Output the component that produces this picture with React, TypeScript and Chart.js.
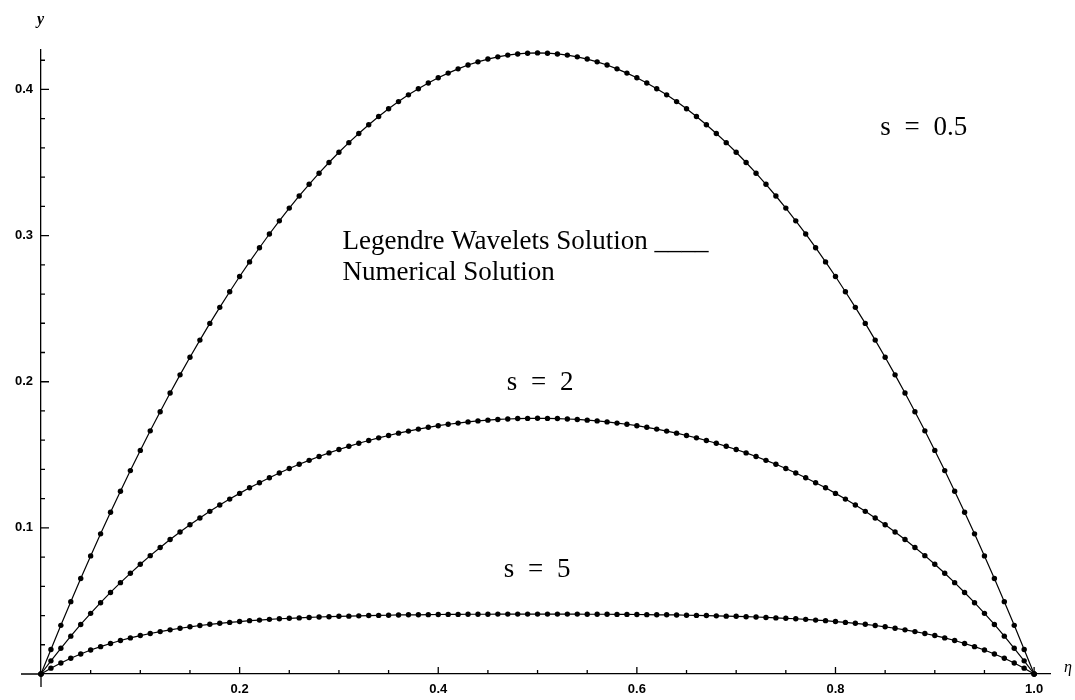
import React, { useEffect, useRef } from 'react';
import { Chart, registerables } from 'chart.js';

Chart.register(...registerables);

// eta sample positions
const etaValues = [
  0, 0.01, 0.02, 0.03, 0.04, 0.05, 0.06, 0.07, 0.08, 0.09,
  0.1, 0.11, 0.12, 0.13, 0.14, 0.15, 0.16, 0.17, 0.18, 0.19,
  0.2, 0.21, 0.22, 0.23, 0.24, 0.25, 0.26, 0.27, 0.28, 0.29,
  0.3, 0.31, 0.32, 0.33, 0.34, 0.35, 0.36, 0.37, 0.38, 0.39,
  0.4, 0.41, 0.42, 0.43, 0.44, 0.45, 0.46, 0.47, 0.48, 0.49,
  0.5, 0.51, 0.52, 0.53, 0.54, 0.55, 0.56, 0.57, 0.58, 0.59,
  0.6, 0.61, 0.62, 0.63, 0.64, 0.65, 0.66, 0.67, 0.68, 0.69,
  0.7, 0.71, 0.72, 0.73, 0.74, 0.75, 0.76, 0.77, 0.78, 0.79,
  0.8, 0.81, 0.82, 0.83, 0.84, 0.85, 0.86, 0.87, 0.88, 0.89,
  0.9, 0.91, 0.92, 0.93, 0.94, 0.95, 0.96, 0.97, 0.98, 0.99,
  1.0,
];

// s = 0.5
const yS05 = [
  0, 0.0168, 0.0333, 0.0495, 0.0653, 0.0808, 0.0959, 0.1107, 0.1251, 0.1392,
  0.1530, 0.1664, 0.1795, 0.1923, 0.2047, 0.2168, 0.2285, 0.2399, 0.2509, 0.2616,
  0.2720, 0.2820, 0.2917, 0.3011, 0.3101, 0.3188, 0.3271, 0.3351, 0.3427, 0.3500,
  0.3570, 0.3636, 0.3699, 0.3759, 0.3815, 0.3868, 0.3917, 0.3963, 0.4005, 0.4044,
  0.4080, 0.4112, 0.4141, 0.4167, 0.4189, 0.4208, 0.4223, 0.4235, 0.4243, 0.4248,
  0.4250,
  0.4248, 0.4243, 0.4235, 0.4223, 0.4208, 0.4189, 0.4167, 0.4141, 0.4112, 0.4080,
  0.4044, 0.4005, 0.3963, 0.3917, 0.3868, 0.3815, 0.3759, 0.3699, 0.3636, 0.3570,
  0.3500, 0.3427, 0.3351, 0.3271, 0.3188, 0.3101, 0.3011, 0.2917, 0.2820, 0.2720,
  0.2616, 0.2509, 0.2399, 0.2285, 0.2168, 0.2047, 0.1923, 0.1795, 0.1664, 0.1530,
  0.1392, 0.1251, 0.1107, 0.0959, 0.0808, 0.0653, 0.0495, 0.0333, 0.0168, 0,
];

// s = 2
const yS2 = [
  0, 0.0090, 0.0176, 0.0259, 0.0339, 0.0415, 0.0488, 0.0558, 0.0625, 0.0689,
  0.0751, 0.0810, 0.0866, 0.0920, 0.0972, 0.1021, 0.1068, 0.1113, 0.1156, 0.1197,
  0.1236, 0.1274, 0.1309, 0.1343, 0.1375, 0.1406, 0.1435, 0.1462, 0.1488, 0.1513,
  0.1536, 0.1558, 0.1579, 0.1598, 0.1616, 0.1632, 0.1648, 0.1662, 0.1676, 0.1688,
  0.1699, 0.1709, 0.1717, 0.1725, 0.1732, 0.1737, 0.1742, 0.1745, 0.1748, 0.1749,
  0.1750,
  0.1749, 0.1748, 0.1745, 0.1742, 0.1737, 0.1732, 0.1725, 0.1717, 0.1709, 0.1699,
  0.1688, 0.1676, 0.1662, 0.1648, 0.1632, 0.1616, 0.1598, 0.1579, 0.1558, 0.1536,
  0.1513, 0.1488, 0.1462, 0.1435, 0.1406, 0.1375, 0.1343, 0.1309, 0.1274, 0.1236,
  0.1197, 0.1156, 0.1113, 0.1068, 0.1021, 0.0972, 0.0920, 0.0866, 0.0810, 0.0751,
  0.0689, 0.0625, 0.0558, 0.0488, 0.0415, 0.0339, 0.0259, 0.0176, 0.0090, 0,
];

// s = 5
const yS5 = [
  0, 0.0040, 0.0075, 0.0108, 0.0137, 0.0164, 0.0187, 0.0209, 0.0229, 0.0247,
  0.0263, 0.0277, 0.0290, 0.0302, 0.0313, 0.0323, 0.0332, 0.0340, 0.0347, 0.0353,
  0.0359, 0.0365, 0.0369, 0.0374, 0.0378, 0.0381, 0.0384, 0.0387, 0.0390, 0.0392,
  0.0395, 0.0396, 0.0398, 0.0400, 0.0401, 0.0402, 0.0404, 0.0405, 0.0405, 0.0406,
  0.0407, 0.0408, 0.0408, 0.0409, 0.0409, 0.0409, 0.0410, 0.0410, 0.0410, 0.0410,
  0.0410,
  0.0410, 0.0410, 0.0410, 0.0410, 0.0409, 0.0409, 0.0409, 0.0408, 0.0408, 0.0407,
  0.0406, 0.0405, 0.0405, 0.0404, 0.0402, 0.0401, 0.0400, 0.0398, 0.0396, 0.0395,
  0.0392, 0.0390, 0.0387, 0.0384, 0.0381, 0.0378, 0.0374, 0.0369, 0.0365, 0.0359,
  0.0353, 0.0347, 0.0340, 0.0332, 0.0323, 0.0313, 0.0302, 0.0290, 0.0277, 0.0263,
  0.0247, 0.0229, 0.0209, 0.0187, 0.0164, 0.0137, 0.0108, 0.0075, 0.0040, 0,
];

const xTickValues = [0.2, 0.4, 0.6, 0.8, 1.0];
const xTickLabels = ['0.2', '0.4', '0.6', '0.8', '1.0'];
const xMinorTicks = [0.05, 0.1, 0.15, 0.25, 0.3, 0.35, 0.45, 0.5, 0.55, 0.65, 0.7, 0.75, 0.85, 0.9, 0.95];
const yTickValues = [0.1, 0.2, 0.3, 0.4];
const yTickLabels = ['0.1', '0.2', '0.3', '0.4'];
const yMinorTicks = [0.02, 0.04, 0.06, 0.08, 0.12, 0.14, 0.16, 0.18, 0.22, 0.24, 0.26, 0.28, 0.32, 0.34, 0.36, 0.38, 0.42];

const curveLabels = ['s = 0.5', 's = 2', 's = 5'];
const legendLines = ['Legendre Wavelets Solution ____', 'Numerical Solution'];
const xAxisTitle = 'η';
const yAxisTitle = 'y';

const decorPlugin = {
  id: 'decor',
  afterDraw(chart: any) {
    const { ctx } = chart;
    const xs = chart.scales.x;
    const ys = chart.scales.y;
    const x0 = xs.getPixelForValue(0);
    const y0 = ys.getPixelForValue(0);
    ctx.save();
    ctx.strokeStyle = '#000';
    ctx.lineWidth = 1.3;
    ctx.beginPath();
    // axis extensions beyond origin
    ctx.moveTo(21, y0);
    ctx.lineTo(x0, y0);
    ctx.moveTo(x0, y0);
    ctx.lineTo(x0, y0 + 13);
    // x ticks (pointing up)
    xTickValues.forEach((v) => {
      const px = xs.getPixelForValue(v);
      ctx.moveTo(px, y0);
      ctx.lineTo(px, y0 - 7);
    });
    xMinorTicks.forEach((v) => {
      const px = xs.getPixelForValue(v);
      ctx.moveTo(px, y0);
      ctx.lineTo(px, y0 - 4);
    });
    // y ticks (pointing right)
    yTickValues.forEach((v) => {
      const py = ys.getPixelForValue(v);
      ctx.moveTo(x0, py);
      ctx.lineTo(x0 + 8, py);
    });
    yMinorTicks.forEach((v) => {
      const py = ys.getPixelForValue(v);
      ctx.moveTo(x0, py);
      ctx.lineTo(x0 + 4, py);
    });
    ctx.stroke();

    ctx.fillStyle = '#000';
    // axis titles
    ctx.font = 'italic bold 16px "Liberation Serif"';
    ctx.textAlign = 'left';
    ctx.textBaseline = 'middle';
    ctx.fillText(yAxisTitle, 37, 20);
    ctx.font = 'italic 16px "Liberation Serif"';
    ctx.fillText(xAxisTitle, 1064, y0 - 6);

    // curve labels
    ctx.font = '27px "Liberation Serif"';
    (ctx as any).wordSpacing = '7px';
    const curvePos = [
      [0.845, 0.374],
      [0.469, 0.199],
      [0.466, 0.071],
    ];
    curveLabels.forEach((t, i) => {
      ctx.fillText(t, xs.getPixelForValue(curvePos[i][0]), ys.getPixelForValue(curvePos[i][1]));
    });
    (ctx as any).wordSpacing = '0px';

    // legend text
    ctx.font = '27px "Liberation Serif"';
    ctx.textBaseline = 'alphabetic';
    const lx = xs.getPixelForValue(0.3037);
    ctx.fillText(legendLines[0], lx, 249);
    ctx.fillText(legendLines[1], lx, 280);
    ctx.restore();
  },
};

export default function App() {
  const canvasRef = useRef<HTMLCanvasElement | null>(null);

  useEffect(() => {
    if (!canvasRef.current) return;
    const mk = (ys: number[]) => etaValues.map((x, i) => ({ x, y: ys[i] }));
    const ds = (label: string, ys: number[]) => ({
      label,
      data: mk(ys),
      borderColor: '#000',
      backgroundColor: '#000',
      borderWidth: 1.2,
      pointRadius: 2.7,
      pointBorderWidth: 0,
      pointBackgroundColor: '#000',
      tension: 0,
      clip: false as any,
    });
    const chart = new Chart(canvasRef.current, {
      type: 'line',
      data: {
        datasets: [ds(curveLabels[0], yS05), ds(curveLabels[1], yS2), ds(curveLabels[2], yS5)],
      },
      options: {
        animation: false,
        responsive: false,
        layout: { padding: { top: 50, right: 25, left: 0, bottom: 0 } },
        plugins: { legend: { display: false }, tooltip: { enabled: false } },
        scales: {
          x: {
            type: 'linear',
            min: 0,
            max: 1.016,
            afterBuildTicks: (s: any) => {
              s.ticks = xTickValues.map((v) => ({ value: v }));
            },
            afterFit: (s: any) => {
              s.height = 26;
            },
            ticks: {
              autoSkip: false,
              maxRotation: 0,
              padding: 8,
              color: '#000',
              font: { family: '"Liberation Sans"', size: 13, weight: 'bold' },
              callback: (v: any) => {
                const i = xTickValues.findIndex((t) => Math.abs(t - Number(v)) < 1e-9);
                return i >= 0 ? xTickLabels[i] : '';
              },
            },
            grid: { display: true, drawOnChartArea: false, drawTicks: false },
            border: { display: true, color: '#000', width: 1.3 },
          },
          y: {
            type: 'linear',
            min: 0,
            max: 0.427,
            afterBuildTicks: (s: any) => {
              s.ticks = yTickValues.map((v) => ({ value: v }));
            },
            afterFit: (s: any) => {
              s.width = 41;
            },
            ticks: {
              autoSkip: false,
              padding: 8,
              color: '#000',
              font: { family: '"Liberation Sans"', size: 13, weight: 'bold' },
              callback: (v: any) => {
                const i = yTickValues.findIndex((t) => Math.abs(t - Number(v)) < 1e-9);
                return i >= 0 ? yTickLabels[i] : '';
              },
            },
            grid: { display: true, drawOnChartArea: false, drawTicks: false },
            border: { display: true, color: '#000', width: 1.3 },
          },
        },
      },
      plugins: [decorPlugin],
    });
    return () => chart.destroy();
  }, []);

  return (
    <div style={{ position: 'absolute', left: 0, top: 0, width: 1075, height: 700, background: '#fff' }}>
      <canvas ref={canvasRef} width={1075} height={700} />
    </div>
  );
}
